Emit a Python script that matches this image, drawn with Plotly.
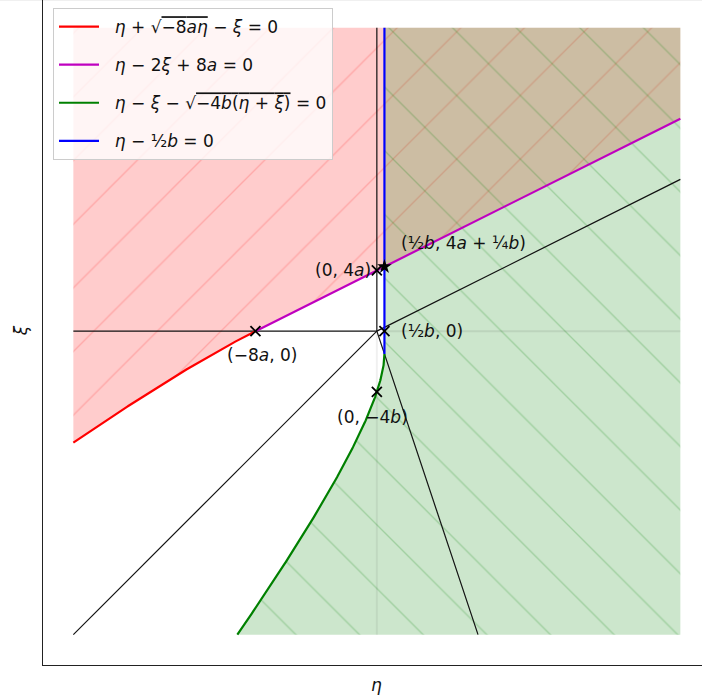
import numpy as np
import plotly.graph_objects as go

# ---- parameters of the diagram ----
a = 1.0
b = 1.0
LIM = 20.0

# ---- legend labels ----
OL = "<span style='text-decoration:overline'>"
PAD = "\u00a0\u00a0"
legend_labels = [
    PAD + "<i>η</i> + √" + OL + "−8<i>aη</i></span> − <i>ξ</i> = 0",
    PAD + "<i>η</i> − 2<i>ξ</i> + 8<i>a</i> = 0",
    PAD + "<i>η</i> − <i>ξ</i> − √" + OL + "−4<i>b</i>(<i>η</i> + <i>ξ</i>)</span> = 0",
    PAD + "<i>η</i> − ½<i>b</i> = 0",
]
curve_colors = ["#ff0000", "#bf00bf", "#008000", "#0000ff"]

# ---- key points ----
pt_eta = [-8 * a, 0.0, 0.5 * b, 0.0]
pt_xi = [0.0, 4 * a, 0.0, -4 * b]
pt_labels = ["(−8<i>a</i>, 0)", "(0, 4<i>a</i>)", "(½<i>b</i>, 0)", "(0, −4<i>b</i>)"]
star_eta = [0.5 * b]
star_xi = [4 * a + 0.25 * b]
star_label = "(½<i>b</i>, 4<i>a</i> + ¼<i>b</i>)"

# ---- curves ----
eta_red = np.linspace(-LIM, -8 * a, 200)
xi_red = eta_red + np.sqrt(-8 * a * eta_red)
eta_mag = np.array([-8 * a, LIM])
xi_mag = (eta_mag + 8 * a) / 2
v0 = 2 * b
v1 = -2 * b + np.sqrt(4 * b * b + 8 * b * LIM)
v = np.linspace(v0, v1, 200)
u = -v ** 2 / (4 * b)
eta_grn = (u + v) / 2
xi_grn = (u - v) / 2
eta_blu = np.array([0.5 * b, 0.5 * b])
xi_blu = np.array([xi_grn[0], LIM])

fig = go.Figure()

# ---- shaded regions ----
red_eta = np.concatenate([eta_red, eta_mag, [LIM, -LIM]])
red_xi = np.concatenate([xi_red, xi_mag, [LIM, LIM]])
fig.add_trace(go.Scatter(
    x=red_eta, y=red_xi, mode="lines", line=dict(width=0), fill="toself",
    fillcolor="rgba(255,0,0,0.2)",
    fillpattern=dict(shape="/", size=45, solidity=0.03, fgcolor="#ff0000",
                     fgopacity=0.18, bgcolor="rgba(255,0,0,0.2)"),
    showlegend=False, hoverinfo="skip"))

grn_eta = np.concatenate([[0.5 * b, LIM, LIM], eta_grn[::-1]])
grn_xi = np.concatenate([[LIM, LIM, -LIM], xi_grn[::-1]])
fig.add_trace(go.Scatter(
    x=grn_eta, y=grn_xi, mode="lines", line=dict(width=0), fill="toself",
    fillcolor="rgba(0,128,0,0.2)",
    fillpattern=dict(shape="\\", size=45, solidity=0.03, fgcolor="#008000",
                     fgopacity=0.22, bgcolor="rgba(0,128,0,0.2)"),
    showlegend=False, hoverinfo="skip"))

# faint region edges
fig.add_trace(go.Scatter(x=[0.5 * b, LIM], y=[0, 0], mode="lines",
                         line=dict(color="rgba(0,0,0,0.08)", width=2),
                         showlegend=False, hoverinfo="skip"))
fig.add_trace(go.Scatter(x=[0, 0], y=[-LIM, 0], mode="lines",
                         line=dict(color="rgba(0,0,0,0.06)", width=2),
                         showlegend=False, hoverinfo="skip"))

# ---- black guide lines ----
guides = [
    ([-LIM, 0], [0, 0]),
    ([0, 0], [0, LIM]),
    ([-LIM, 0], [-LIM, 0]),
    ([0, LIM], [0, LIM / 2]),
    ([0, LIM / 3], [0, -LIM]),
]
for gx, gy in guides:
    fig.add_trace(go.Scatter(x=gx, y=gy, mode="lines",
                             line=dict(color="#111111", width=1.2),
                             showlegend=False, hoverinfo="skip"))

# ---- curves with legend ----
curves = [(eta_red, xi_red), (eta_mag, xi_mag), (eta_grn, xi_grn), (eta_blu, xi_blu)]
for i, ((cx, cy), name, col) in enumerate(zip(curves, legend_labels, curve_colors)):
    fig.add_trace(go.Scatter(x=cx, y=cy, mode="lines", name=name,
                             line=dict(color=col, width=2.2),
                             legendgroup="g%d" % i, hoverinfo="skip"))

# ---- markers ----
fig.add_trace(go.Scatter(x=pt_eta, y=pt_xi, mode="markers",
                         marker=dict(symbol="x-thin", size=10,
                                     line=dict(color="black", width=1.8)),
                         showlegend=False, hoverinfo="skip"))
fig.add_trace(go.Scatter(x=star_eta, y=star_xi, mode="markers",
                         marker=dict(symbol="star", size=11, color="black"),
                         showlegend=False, hoverinfo="skip"))

# ---- point labels ----
FONT = dict(family="DejaVu Sans", size=17, color="#111111")
ann = [
    dict(x=pt_eta[0], y=pt_xi[0], text=pt_labels[0], xanchor="center", yanchor="middle", xshift=7, yshift=-24),
    dict(x=pt_eta[1], y=pt_xi[1], text=pt_labels[1], xanchor="right", yanchor="middle", xshift=-4, yshift=0),
    dict(x=pt_eta[2], y=pt_xi[2], text=pt_labels[2], xanchor="left", yanchor="middle", xshift=15, yshift=0),
    dict(x=pt_eta[3], y=pt_xi[3], text=pt_labels[3], xanchor="center", yanchor="middle", xshift=-4, yshift=-25),
    dict(x=star_eta[0], y=star_xi[0], text=star_label, xanchor="left", yanchor="middle", xshift=15, yshift=24),
]
for d in ann:
    d.update(showarrow=False, font=FONT, xref="x", yref="y")
    fig.add_annotation(**d)

# axis labels
fig.add_annotation(x=0, y=0, xref="x", yref="paper", text="<i>η</i>", showarrow=False,
                   xanchor="center", yanchor="top", yshift=-8, font=FONT)
fig.add_annotation(x=0, y=0, xref="paper", yref="y", text="<i>ξ</i>", showarrow=False,
                   xanchor="right", yanchor="middle", xshift=-10, textangle=-90, font=FONT)

# top border of the picture
fig.add_shape(type="line", xref="paper", yref="paper", x0=-43 / 659, x1=1, y0=1, y1=1,
              line=dict(color="rgba(0,0,0,0.08)", width=1.5))

SCALE = 15.175
fig.update_layout(
    width=702, height=698,
    margin=dict(l=43, r=0, t=0, b=33),
    paper_bgcolor="white", plot_bgcolor="white",
    xaxis=dict(range=[-22, -22 + 659 / SCALE], showgrid=False, zeroline=False,
               showticklabels=False, ticks="", showline=True, linecolor="#222222", linewidth=1.3),
    yaxis=dict(range=[-22, -22 + 665 / SCALE], showgrid=False, zeroline=False,
               showticklabels=False, ticks="", showline=True, linecolor="#222222", linewidth=1.3),
    legend=dict(x=10 / 659, y=1 - 8 / 665, xanchor="left", yanchor="top",
                bgcolor="rgba(255,255,255,0.8)", bordercolor="#cccccc", borderwidth=1,
                font=FONT, traceorder="grouped", tracegroupgap=13, itemwidth=40),
    showlegend=True,
)

fig.write_html("out.html", config={"displayModeBar": False},
               post_script="document.body.style.margin='0px';")
